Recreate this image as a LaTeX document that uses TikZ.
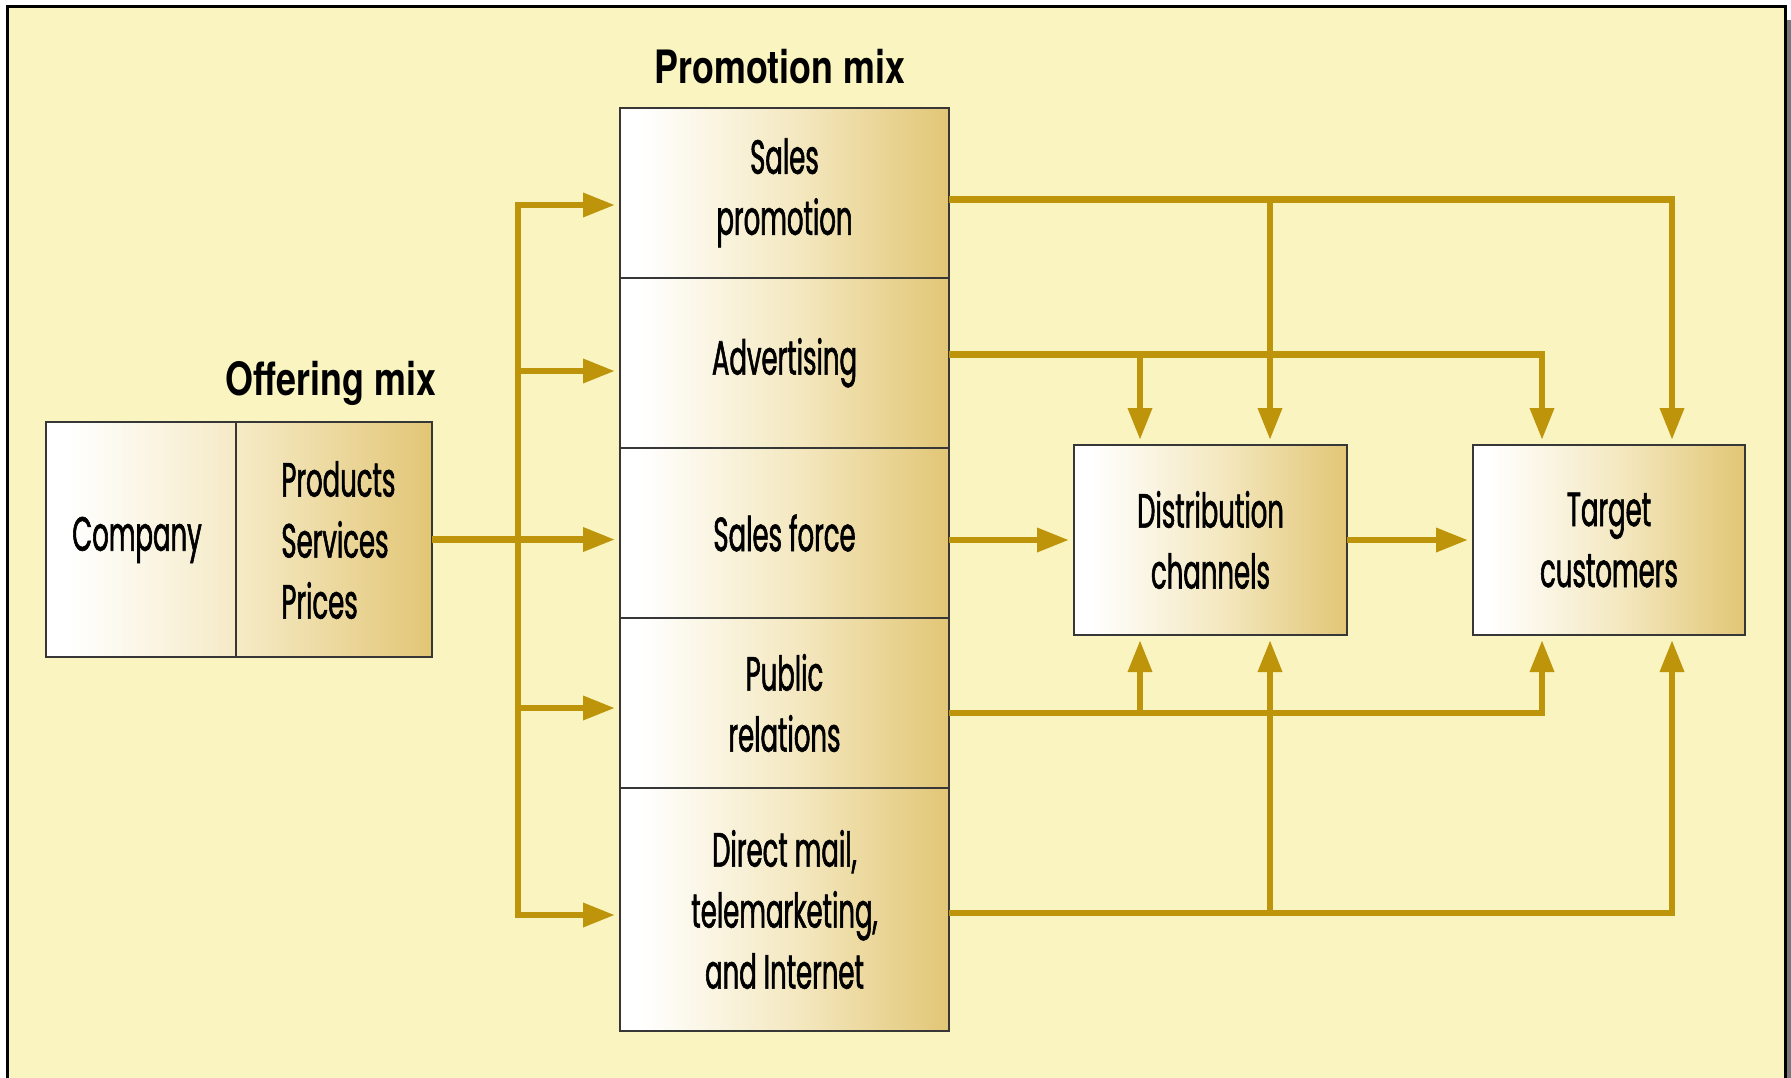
\documentclass[tikz,border=0pt]{standalone}
\usepackage{fontspec}
\usetikzlibrary{arrows.meta}

\newfontfamily\cellfont{Poppins}[FakeStretch=0.54, FakeBold=1.2]
\newfontfamily\headfont{TeX Gyre Heros}[FakeStretch=0.78]

\definecolor{panelfill}{RGB}{250,245,192}
\definecolor{connc}{RGB}{190,148,10}
\definecolor{celltan}{RGB}{226,198,118}
\definecolor{cellmid}{RGB}{244,232,192}
\definecolor{cellline}{RGB}{55,55,55}

% white on the left, warm tan on the right
\pgfdeclarehorizontalshading{cellshade}{100bp}{color(0bp)=(white); color(28bp)=(white); color(52bp)=(cellmid); color(75bp)=(celltan); color(100bp)=(celltan)}

\tikzset{
  cellbox/.style={draw=cellline, line width=1pt, shade, shading=cellshade,
    inner sep=0pt, outer sep=0pt, align=center, text=black,
    font=\cellfont\fontsize{24}{30.5}\selectfont},
  promo/.style={cellbox, minimum width=164.5pt},
  label/.style={inner sep=0pt, text=black, font=\cellfont\fontsize{24}{30.5}\selectfont},
  heading/.style={inner sep=0pt, anchor=base, text=black,
    font=\headfont\bfseries\fontsize{23}{28}\selectfont},
  conn/.style={draw=connc, line width=3.25pt, line join=miter},
  connarrow/.style={conn, -{Triangle[length=16pt,width=11.5pt]}, color=connc},
}

\begin{document}
\begin{tikzpicture}[x=0.5pt,y=-0.5pt]
\clip (0,0) rectangle (1791,1077);

% panel with its frame and shadow
\fill[white] (0,0) rectangle (1791,1077);
\fill[gray!95!black] (1787,20) rectangle (1791,1100);
\draw[line width=1.5pt, fill=panelfill] (7,6) rectangle (1785.5,1100);

% offering mix
\node[heading] (offtitle) at (331,395) {Offering mix};
\node[cellbox, minimum width=193.25pt, minimum height=117.5pt] (offer) at (238.75,539.5) {};
\coordinate (xdiv) at (236,0);
\draw[draw=cellline, line width=1pt] (offer.north -| xdiv) -- (offer.south -| xdiv);
\node[label] (company) at (137,540) {Company};
\node[label, anchor=west, align=left] (products) at (281,540) {Products\\Services\\Prices};

% promotion mix column
\node[heading] (promotitle) at (780,83) {Promotion mix};
\node[promo, minimum height=84.75pt] (r1) at (784.5,192.75) {Sales\\promotion};
\node[promo, minimum height=85.25pt] (r2) at (784.5,362.75) {Advertising};
\node[promo, minimum height=85pt] (r3) at (784.5,533) {Sales force};
\node[promo, minimum height=85pt] (r4) at (784.5,703) {Public\\relations};
\node[promo, minimum height=121.5pt] (r5) at (784.5,909.5) {Direct mail,\\telemarketing,\\and Internet};

% channel and customer boxes
\node[cellbox, minimum width=136.5pt, minimum height=95pt] (dist) at (1210.5,540) {Distribution\\channels};
\node[cellbox, minimum width=136pt, minimum height=95pt] (target) at (1609,540) {Target\\customers};

% levels and branch positions of the flows
\coordinate (tt) at (518,205);
\coordinate (tb) at (518,915);
\coordinate (tad) at (518,371);
\coordinate (tpr) at (518,708);
\coordinate (ySP) at (0,199.5);
\coordinate (yAD) at (0,354.5);
\coordinate (yPR) at (0,713);
\coordinate (yDM) at (0,913);
\coordinate (xD1) at (1140,0);
\coordinate (xD2) at (1270,0);
\coordinate (xT1) at (1542,0);
\coordinate (xT2) at (1672,0);

% from the offering into the promotion tools
\draw[connarrow] (offer.east) -- ([xshift=-2.5pt]offer.east -| r3.west);
\draw[connarrow] (tb) -- (tt) -- ([xshift=-2.5pt]tt -| r1.west);
\draw[connarrow] (tt) -- (tb) -- ([xshift=-2.5pt]tb -| r5.west);
\draw[connarrow] (tad) -- ([xshift=-2.5pt]tad -| r2.west);
\draw[connarrow] (tpr) -- ([xshift=-2.5pt]tpr -| r4.west);

% sales promotion
\draw[connarrow] (r1.east |- ySP) -- (xT2 |- ySP) -- ([yshift=2.5pt]xT2 |- target.north);
\draw[connarrow] (xD2 |- ySP) -- ([yshift=2.5pt]xD2 |- dist.north);
% advertising
\draw[connarrow] (r2.east |- yAD) -- (xT1 |- yAD) -- ([yshift=2.5pt]xT1 |- target.north);
\draw[connarrow] (xD1 |- yAD) -- ([yshift=2.5pt]xD1 |- dist.north);
% sales force
\draw[connarrow] (r3.east |- dist.west) -- ([xshift=-2.5pt]dist.west);
\draw[connarrow] (dist.east) -- ([xshift=-2.5pt]target.west);
% public relations
\draw[connarrow] (r4.east |- yPR) -- (xT1 |- yPR) -- ([yshift=-2.5pt]xT1 |- target.south);
\draw[connarrow] (xD1 |- yPR) -- ([yshift=-2.5pt]xD1 |- dist.south);
% direct mail, telemarketing and internet
\draw[connarrow] (r5.east |- yDM) -- (xT2 |- yDM) -- ([yshift=-2.5pt]xT2 |- target.south);
\draw[connarrow] (xD2 |- yDM) -- ([yshift=-2.5pt]xD2 |- dist.south);
\end{tikzpicture}
\end{document}
